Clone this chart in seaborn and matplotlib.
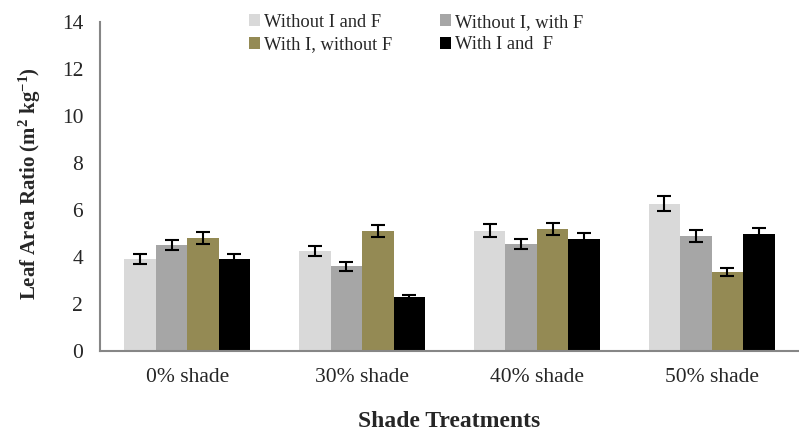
import pandas as pd
import numpy as np
import matplotlib.pyplot as plt
import seaborn as sns

shades = ["0% shade", "30% shade", "40% shade", "50% shade"]
treatments = ["Without I and F", "Without I, with F", "With I, without F", "With I and  F"]
colors = ["#d9d9d9", "#a6a6a6", "#948a54", "#000000"]

# mean leaf area ratio per treatment, one value per shade level
without_i_and_f = [3.92, 4.25, 5.12, 6.28]
without_i_with_f = [4.52, 3.60, 4.55, 4.90]
with_i_without_f = [4.82, 5.10, 5.19, 3.37]
with_i_and_f = [3.92, 2.28, 4.78, 4.99]

# standard errors
err_without_i_and_f = [0.20, 0.22, 0.27, 0.32]
err_without_i_with_f = [0.22, 0.19, 0.22, 0.25]
err_with_i_without_f = [0.25, 0.25, 0.25, 0.18]
err_with_i_and_f = [0.20, 0.10, 0.25, 0.25]

values = [without_i_and_f, without_i_with_f, with_i_without_f, with_i_and_f]
errors = [err_without_i_and_f, err_without_i_with_f, err_with_i_without_f, err_with_i_and_f]

rows = []
for t, vals, errs in zip(treatments, values, errors):
    for s, v, e in zip(shades, vals, errs):
        rows.append({"Shade": s, "Treatment": t, "LAR": v, "SE": e})
df = pd.DataFrame(rows)

sns.set_style("white")
plt.rcParams["font.family"] = ["Liberation Serif", "DejaVu Serif"]
plt.rcParams["mathtext.fontset"] = "custom"
plt.rcParams["mathtext.bf"] = "Liberation Serif:bold"
plt.rcParams["mathtext.rm"] = "Liberation Serif"
plt.rcParams["mathtext.default"] = "bf"

fig = plt.figure(figsize=(7.99, 4.32), dpi=100)
ax = fig.add_axes([0.125, 0.1875, 0.875, 0.761])

sns.barplot(data=df, x="Shade", y="LAR", hue="Treatment", order=shades,
            hue_order=treatments, palette=colors, saturation=1, width=0.72,
            errorbar=None, ax=ax, edgecolor="none")

for container, t in zip(ax.containers, treatments):
    sub = df[df["Treatment"] == t].set_index("Shade").loc[shades]
    xs = [b.get_x() + b.get_width() / 2 for b in container]
    ax.errorbar(xs, sub["LAR"], yerr=sub["SE"], fmt="none", ecolor="black",
                elinewidth=1.5, capsize=5, capthick=1.5)

ax.set_ylim(0, 14)
ax.set_yticks(range(0, 15, 2))
ax.set_xlim(-0.5, 3.5)
ax.set_xticks(range(4))
ax.set_xticklabels(shades)
ax.set_xticks(np.arange(-0.5, 3.6, 1), minor=True)
ax.tick_params(axis="x", which="major", length=0, labelsize=15.5, pad=12)
ax.tick_params(axis="x", which="minor", length=6, width=1.5, color="#868686", direction="out")
ax.tick_params(axis="y", length=6, width=1.5, color="#868686", direction="out", labelsize=15.5, pad=6)

for side in ["top", "right"]:
    ax.spines[side].set_visible(False)
for side in ["left", "bottom"]:
    ax.spines[side].set_color("#868686")
    ax.spines[side].set_linewidth(1.5)

ax.set_xlabel("")
fig.text(0.5625, 0.025, "Shade Treatments", fontsize=17, fontweight="bold", ha="center", va="center")
ax.set_ylabel("Leaf Area Ratio (m$^{2}$ kg$^{-1}$)", fontsize=15, fontweight="bold")
ax.yaxis.set_label_coords(-0.082, 0.51)

handles, labels = ax.get_legend_handles_labels()
order = [0, 2, 1, 3]
ax.legend([handles[i] for i in order], [labels[i] for i in order], ncol=2,
          frameon=False, loc="upper left", bbox_to_anchor=(0.2, 1.054),
          fontsize=13.3, handlelength=0.6, handleheight=0.6, handletextpad=0.2,
          columnspacing=2.6, labelspacing=0.3, borderpad=0)

fig.savefig("out.png", dpi=100)
